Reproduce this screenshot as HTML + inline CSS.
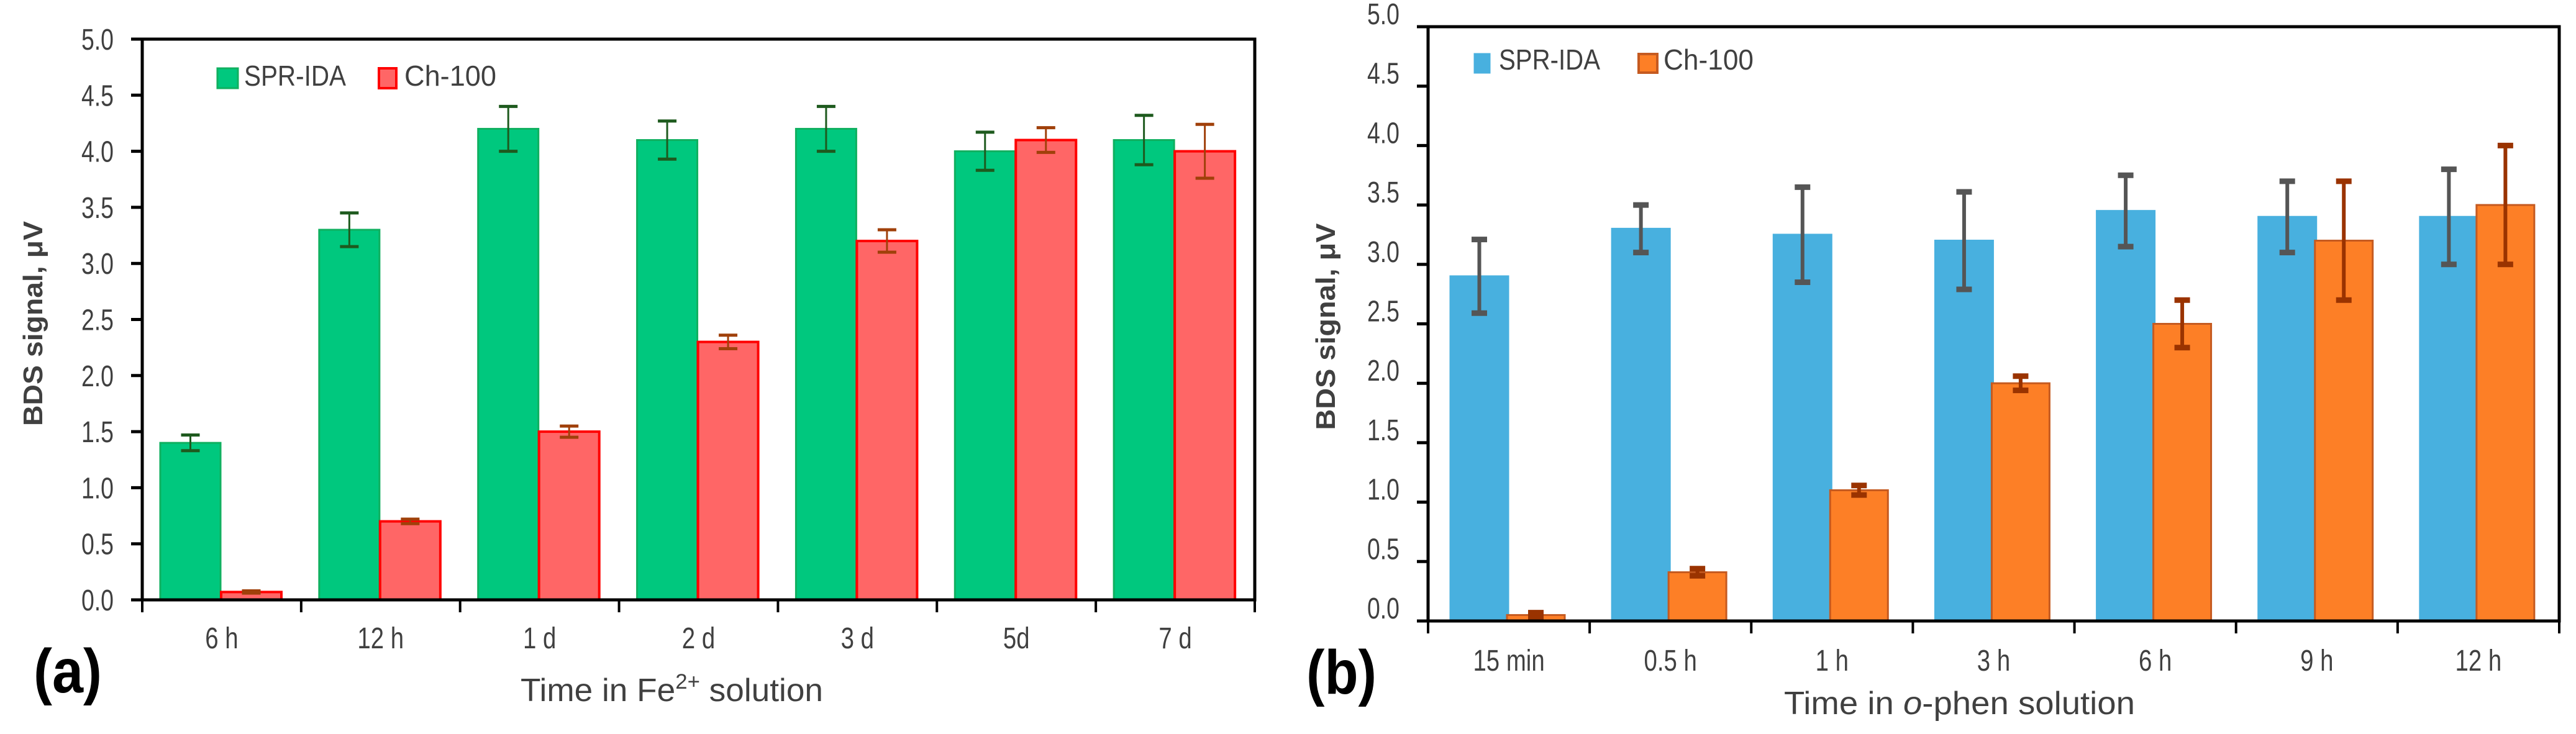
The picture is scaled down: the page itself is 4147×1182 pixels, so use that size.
<!DOCTYPE html>
<html><head><meta charset="utf-8"><style>
html,body{margin:0;padding:0;background:#fff;}
svg{display:block;}
text{font-family:"Liberation Sans Narrow","Liberation Sans",sans-serif;}
</style></head><body>
<svg id="fig" width="4147" height="1182" viewBox="0 0 4147 1182" xmlns="http://www.w3.org/2000/svg">
<g id="pa"></g>
<g id="pb"></g>
</svg>
<script>
const NS="http://www.w3.org/2000/svg";
// Panel (a) data
const catsA=["6 h","12 h","1 d","2 d","3 d","5d","7 d"];
const sprA=[1.4,3.3,4.2,4.1,4.2,4.0,4.1];
const sprErrA=[0.07,0.15,0.2,0.17,0.2,0.17,0.22];
const chA=[0.07,0.7,1.5,2.3,3.2,4.1,4.0];
const chErrA=[0.01,0.02,0.05,0.06,0.1,0.11,0.24];
// Panel (b) data
const catsB=["15 min","0.5 h","1 h","3 h","6 h","9 h","12 h"];
const sprB=[2.9,3.3,3.25,3.2,3.45,3.4,3.4];
const sprErrB=[0.31,0.2,0.4,0.41,0.3,0.3,0.4];
const chB=[0.05,0.41,1.1,2.0,2.5,3.2,3.5];
const chErrB=[0.02,0.03,0.04,0.06,0.2,0.5,0.5];
const yTicks=["0.0","0.5","1.0","1.5","2.0","2.5","3.0","3.5","4.0","4.5","5.0"];
const seriesNames=["SPR-IDA","Ch-100"];

function mk(parent,tag,attrs,txt){const e=document.createElementNS(NS,tag);for(const k in attrs)e.setAttribute(k,attrs[k]);if(txt!==undefined)e.textContent=txt;parent.appendChild(e);return e;}
function squeeze(t,f){const w=t.getComputedTextLength();if(w>0){t.setAttribute("textLength",w*f);t.setAttribute("lengthAdjust","spacingAndGlyphs");}}

function panel(g,cfg){
  const {x0,x1,y0,y5,cats,s1,e1,s2,e2,c1,c1s,c2,c2s,ec1,ec2,ew,capW,barOff,barW,bar2Off}=cfg;
  const yS=v=>y0-(y0-y5)*v/5;
  const gw=(x1-x0)/cats.length;
  const xS=i=>x0+gw*i;
  for(let i=0;i<cats.length;i++){
    const r1=mk(g,"rect",{x:xS(i)+barOff,y:yS(s1[i]),width:barW,height:y0-yS(s1[i]),fill:c1,stroke:c1s,"stroke-width":3});
    
    
    const r2=mk(g,"rect",{x:xS(i)+bar2Off,y:yS(s2[i]),width:barW,height:y0-yS(s2[i]),fill:c2,stroke:c2s,"stroke-width":cfg.s2w});
    
    
  }
  for(let i=0;i<cats.length;i++){
    [[s1,e1,barOff,ec1],[s2,e2,bar2Off,ec2]].forEach(([s,e,off,col],k)=>{
      const cx=xS(i)+off+barW/2;
      const eg=mk(g,"g",{stroke:col,"stroke-width":ew,fill:"none"});
      
      
      mk(eg,"line",{x1:cx,x2:cx,y1:yS(s[i]-e[i]),y2:yS(s[i]+e[i])});
      mk(eg,"line",{x1:cx-capW/2,x2:cx+capW/2,y1:yS(s[i]-e[i]),y2:yS(s[i]-e[i]),"stroke-width":cfg.capH});
      mk(eg,"line",{x1:cx-capW/2,x2:cx+capW/2,y1:yS(s[i]+e[i]),y2:yS(s[i]+e[i]),"stroke-width":cfg.capH});
    });
  }
  const fr=mk(g,"rect",{x:x0,y:y5,width:x1-x0,height:y0-y5,fill:"none",stroke:"#000","stroke-width":5});
  
  
  for(let j=0;j<yTicks.length;j++){
    const v=parseFloat(yTicks[j]);
    mk(g,"line",{x1:x0-18,x2:x0,y1:yS(v),y2:yS(v),stroke:"#000","stroke-width":5});
    const t=mk(g,"text",{x:x0-46,y:yS(v)+cfg.tickDy,"text-anchor":"end","font-size":48,fill:"#404040"},yTicks[j]);
    
    
    squeeze(t,0.78);
  }
  for(let i=0;i<=cats.length;i++){
    mk(g,"line",{x1:xS(i),x2:xS(i),y1:y0,y2:y0+20,stroke:"#000","stroke-width":4});
  }
  for(let i=0;i<cats.length;i++){
    const t=mk(g,"text",{x:xS(i)+gw/2,y:cfg.catY,"text-anchor":"middle","font-size":48,fill:"#404040"},cats[i]);
    
    
    squeeze(t,0.8);
  }
  const lg=mk(g,"g",{});
  
  
  const L=cfg.leg;
  mk(lg,"rect",{x:L.s1x,y:L.sy,width:L.s1w,height:L.sh,fill:c1,stroke:c1s,"stroke-width":3});
  const t1=mk(lg,"text",{x:L.t1x,y:L.ty,"font-size":46,fill:"#404040",textLength:L.t1w,lengthAdjust:"spacingAndGlyphs"},seriesNames[0]);
  
  
  mk(lg,"rect",{x:L.s2x,y:L.sy,width:L.s2w,height:L.sh,fill:c2,stroke:c2s,"stroke-width":4});
  const t2=mk(lg,"text",{x:L.t2x,y:L.ty,"font-size":46,fill:"#404040",textLength:L.t2w,lengthAdjust:"spacingAndGlyphs"},seriesNames[1]);
  
  
}

panel(document.getElementById('pa'),{x0:229,x1:2020,y0:966,y5:63,cats:catsA,s1:sprA,e1:sprErrA,s2:chA,e2:chErrA,
  c1:"#00c87e",c1s:"#10b060",c2:"#ff6666",c2s:"#ff0000",s2w:4,ec1:"#1e5a1e",ec2:"#a0400a",ew:3,capW:30,capH:5,
  barOff:29,barW:97,bar2Off:127,tickDy:17,catY:1044,
  leg:{s1x:350,s1w:33,s2x:610,s2w:28,sy:110,sh:32,ty:138,t1x:393,t1w:164,t2x:651,t2w:148}});
panel(document.getElementById('pb'),{x0:2299,x1:4120,y0:1000,y5:43,cats:catsB,s1:sprB,e1:sprErrB,s2:chB,e2:chErrB,
  c1:"#48b0df",c1s:"#48b0df",c2:"#fd7f26",c2s:"#c55a20",s2w:3,ec1:"#555555",ec2:"#9a3300",ew:6,capW:25,capH:9,
  barOff:36,barW:93,bar2Off:127,tickDy:-4,catY:1080,
  leg:{s1x:2374,s1w:24,s2x:2638,s2w:30,sy:87,sh:30,ty:112,t1x:2413,t1w:163,t2x:2678,t2w:145}});

const svg=document.getElementById('fig');
let t;
t=mk(svg,"text",{x:838,y:1129,"font-size":52,fill:"#404040",textLength:487,lengthAdjust:"spacingAndGlyphs"});
t.innerHTML='Time in Fe<tspan dy="-20" font-size="34">2+</tspan><tspan dy="20"> solution</tspan>';


t=mk(svg,"text",{x:2872,y:1150,"font-size":52,fill:"#404040",textLength:565,lengthAdjust:"spacingAndGlyphs"});
t.innerHTML='Time in <tspan font-style="italic">o</tspan>-phen solution';


t=mk(svg,"text",{x:0,y:0,"font-size":44,"font-weight":"bold",fill:"#404040","text-anchor":"middle",transform:"translate(68,521) rotate(-90)",style:"font-family:'Liberation Sans',sans-serif",textLength:330,lengthAdjust:"spacingAndGlyphs"},"BDS signal,  μV");


t=mk(svg,"text",{x:0,y:0,"font-size":44,"font-weight":"bold",fill:"#404040","text-anchor":"middle",transform:"translate(2149,526) rotate(-90)",style:"font-family:'Liberation Sans',sans-serif",textLength:333,lengthAdjust:"spacingAndGlyphs"},"BDS signal,  μV");


t=mk(svg,"text",{x:54,y:1115,"font-size":100,"font-weight":"bold",fill:"#000",textLength:110,lengthAdjust:"spacingAndGlyphs"},"(a)");


t=mk(svg,"text",{x:2103,y:1117,"font-size":100,"font-weight":"bold",fill:"#000",textLength:113,lengthAdjust:"spacingAndGlyphs"},"(b)");


</script>
</body></html>
